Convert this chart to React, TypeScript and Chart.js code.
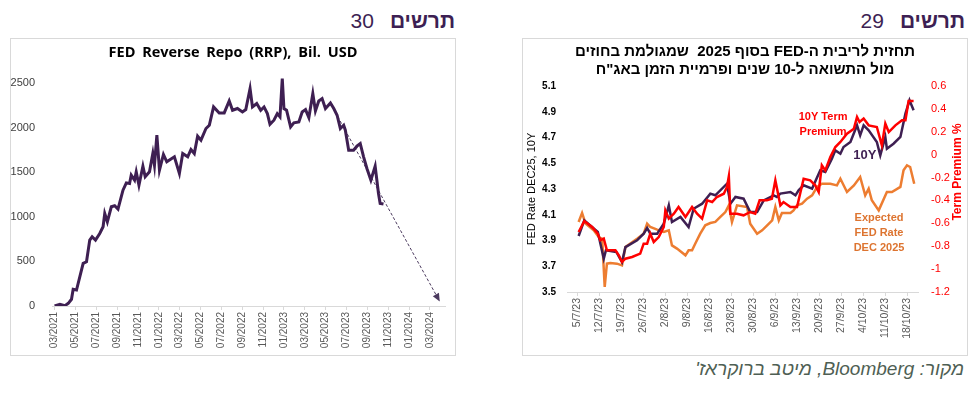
import React, { useEffect, useRef } from "react";
import { Chart, registerables } from "chart.js";

Chart.register(...registerables);

// ---------- Chart 30: FED Reverse Repo (RRP), Bil. USD ----------
// x = months since 03/2021
const rrpMonths = [0, 0.51, 0.99, 1.31, 1.62, 1.78, 2.1, 2.74, 3.06, 3.37, 3.6, 3.92, 4.33, 4.65, 4.81, 5.06, 5.44, 5.76, 6.08, 6.56, 6.88, 7.19, 7.35, 7.67, 7.83, 8.09, 8.47, 8.69, 9.1, 9.42, 9.58, 9.81, 10.06, 10.44, 10.76, 11.49, 11.97, 12.29, 12.77, 13.08, 13.4, 13.72, 14.04, 14.52, 14.84, 15.25, 15.79, 16.27, 16.75, 17.07, 17.54, 18.02, 18.34, 18.75, 18.98, 19.39, 19.77, 20.09, 20.41, 20.66, 21.04, 21.36, 21.62, 21.84, 22.0, 22.25, 22.64, 22.95, 23.43, 23.75, 24.07, 24.39, 24.77, 25.02, 25.34, 25.66, 25.98, 26.46, 26.78, 27.1, 27.41, 27.73, 27.89, 28.21, 28.68, 29.0, 29.32, 29.64, 29.96, 30.34, 30.75, 31.07, 31.23, 31.55];
const rrpValues = [0, 19, 4, 30, 75, 187, 179, 478, 496, 739, 776, 739, 813, 888, 1037, 944, 1112, 1123, 1086, 1298, 1380, 1373, 1466, 1410, 1504, 1354, 1567, 1448, 1504, 1709, 1578, 1914, 1522, 1698, 1616, 1672, 1485, 1709, 1672, 1754, 1709, 1903, 1858, 1989, 2026, 2231, 2164, 2164, 2298, 2194, 2213, 2175, 2201, 2436, 2231, 2269, 2194, 2231, 2156, 2037, 2082, 2156, 2119, 2548, 2213, 2194, 2007, 2052, 2063, 2175, 2201, 2112, 2380, 2186, 2298, 2324, 2213, 2276, 2213, 2138, 1989, 2026, 1970, 1746, 1746, 1791, 1821, 1672, 1541, 1410, 1567, 1261, 1149, 1142];
const rrpTrendMonths = [26.46, 36.9];
const rrpTrendValues = [2270, 60];
const rrpYTicks = [0, 500, 1000, 1500, 2000, 2500];
const rrpXTicks = [0, 2, 4, 6, 8, 10, 12, 14, 16, 18, 20, 22, 24, 26, 28, 30, 32, 34, 36];

// ---------- Chart 29: FED DEC25 expectations vs 10Y and term premium ----------
// x = days since 5/7/23
const tyDays = [0.5, 2.3, 6.6, 8.5, 9.2, 12.5, 14.3, 15.4, 19.1, 21.2, 22.3, 23.3, 25.5, 27.6, 29.2, 30.2, 32.9, 35.5, 37.1, 39.8, 42.4, 44.0, 47.7, 48.8, 50.4, 53.0, 55.1, 57.3, 59.4, 62.6, 63.6, 64.7, 67.9, 69.5, 70.5, 72.1, 74.8, 77.4, 79.0, 81.1, 82.2, 83.8, 84.8, 87.0, 89.1, 90.1, 91.2, 92.8, 95.4, 96.5, 98.1, 98.6, 100.7, 102.9, 104.5, 105.8, 107.1];
const tyValues = [3.935, 4.057, 3.966, 3.759, 3.824, 3.811, 3.733, 3.849, 3.901, 3.953, 3.997, 3.953, 3.953, 4.031, 4.173, 4.044, 4.083, 4.005, 4.147, 4.186, 4.264, 4.251, 4.341, 4.186, 4.238, 4.225, 4.121, 4.121, 4.212, 4.251, 4.238, 4.264, 4.277, 4.251, 4.29, 4.329, 4.303, 4.445, 4.432, 4.536, 4.6, 4.574, 4.626, 4.665, 4.795, 4.717, 4.795, 4.756, 4.665, 4.561, 4.704, 4.613, 4.652, 4.704, 4.885, 4.989, 4.911];
const tpDays = [0.5, 2.3, 4.8, 6.6, 7.4, 8.5, 9.5, 12.2, 13.3, 14.3, 15.4, 17.5, 20.1, 21.2, 22.3, 23.3, 24.4, 26.0, 27.6, 28.1, 29.2, 30.8, 32.3, 34.5, 36.6, 38.2, 39.8, 41.4, 43.0, 44.5, 46.7, 47.7, 48.3, 48.8, 50.9, 53.0, 55.1, 56.7, 58.1, 60.4, 62.0, 63.1, 64.7, 65.7, 67.9, 70.0, 72.1, 74.2, 75.8, 76.9, 77.9, 79.0, 80.6, 82.2, 83.8, 85.9, 88.1, 89.1, 89.9, 91.2, 92.8, 95.4, 97.0, 98.1, 99.2, 101.3, 103.4, 104.5, 105.5, 107.1];
const tpValues = [-0.676, -0.58, -0.632, -0.69, -0.749, -0.734, -0.836, -0.836, -0.88, -0.938, -0.909, -0.894, -0.865, -0.778, -0.778, -0.69, -0.763, -0.72, -0.632, -0.487, -0.559, -0.516, -0.457, -0.545, -0.457, -0.516, -0.559, -0.399, -0.414, -0.37, -0.341, -0.283, -0.189, -0.516, -0.516, -0.53, -0.501, -0.516, -0.399, -0.399, -0.385, -0.224, -0.443, -0.414, -0.457, -0.457, -0.21, -0.224, -0.268, -0.326, -0.093, -0.137, -0.02, 0.067, 0.111, 0.183, 0.227, 0.329, 0.285, 0.315, 0.256, 0.242, 0.082, 0.271, 0.198, 0.256, 0.3, 0.3, 0.469, 0.469];
const fedDays = [0.5, 1.6, 2.7, 5.3, 6.9, 8.0, 8.8, 9.5, 10.6, 12.7, 14.3, 15.4, 19.1, 21.2, 22.3, 23.3, 25.5, 27.6, 29.2, 30.2, 31.8, 34.5, 35.5, 36.6, 37.6, 39.2, 40.8, 42.4, 44.0, 45.6, 47.2, 48.3, 49.3, 50.9, 54.1, 55.1, 57.3, 58.9, 60.5, 62.1, 63.1, 64.2, 65.2, 67.9, 68.9, 70.0, 71.6, 73.2, 74.8, 76.4, 77.9, 80.6, 82.7, 83.8, 85.9, 88.1, 90.1, 91.7, 92.8, 93.8, 96.0, 98.6, 100.2, 102.9, 103.9, 105.0, 106.0, 107.3];
const fedValues = [4.044, 4.114, 4.031, 3.979, 3.927, 3.914, 3.539, 3.72, 3.725, 3.72, 3.707, 3.849, 3.914, 3.953, 4.031, 4.005, 3.984, 3.966, 3.979, 3.862, 3.837, 3.785, 3.824, 3.824, 3.875, 3.953, 4.018, 4.036, 4.044, 4.083, 4.121, 4.173, 4.044, 4.173, 4.16, 4.031, 3.953, 3.979, 4.018, 4.057, 4.16, 4.057, 4.114, 4.114, 4.134, 4.173, 4.186, 4.225, 4.251, 4.316, 4.341, 4.341, 4.328, 4.38, 4.277, 4.328, 4.393, 4.251, 4.303, 4.212, 4.134, 4.277, 4.277, 4.316, 4.445, 4.484, 4.471, 4.341];
const leftTicks = [3.5, 3.7, 3.9, 4.1, 4.3, 4.5, 4.7, 4.9, 5.1];
const rightTicks = [-1.2, -1.0, -0.8, -0.6, -0.4, -0.2, 0, 0.2, 0.4, 0.6];
const weekTicks = [0, 7, 14, 21, 28, 35, 42, 49, 56, 63, 70, 77, 84, 91, 98, 105];

// annotation labels, anchored in data space (day, left-axis value)
const noteLines = [["10Y Term", "Premium"], ["10Y"], ["Expected", "FED Rate", "DEC 2025"]];
const noteDays = [78.3, 91.6, 96.1];
const noteValues = [4.80, 4.56, 3.956];

const PURPLE = "#3e1f52";
const RED = "#ff0000";
const ORANGE = "#ed7d31";

function fmtMonth(v: number) {
  const t = 2 + Math.round(v);
  const y = 2021 + Math.floor(t / 12);
  const mm = (t % 12) + 1;
  return (mm < 10 ? "0" : "") + mm + "/" + y;
}
function fmtDay(v: number) {
  const d = new Date(2023, 6, 5 + Math.round(v));
  return d.getDate() + "/" + (d.getMonth() + 1) + "/23";
}
function fmtNum(v: number) {
  return String(Number(v.toFixed(1)));
}

const arrowHead = {
  id: "arrowHead",
  afterDatasetsDraw(chart: any) {
    const pts = chart.getDatasetMeta(1).data;
    if (pts.length < 2) return;
    const a = pts[pts.length - 2];
    const b = pts[pts.length - 1];
    const ang = Math.atan2(b.y - a.y, b.x - a.x);
    const ctx = chart.ctx;
    ctx.save();
    ctx.translate(b.x, b.y);
    ctx.rotate(ang);
    ctx.beginPath();
    ctx.moveTo(1, 0);
    ctx.lineTo(-7, -3.5);
    ctx.lineTo(-7, 3.5);
    ctx.closePath();
    ctx.fillStyle = "#4b3a5e";
    ctx.fill();
    ctx.restore();
  },
};

const notesPlugin = {
  id: "notes",
  afterDatasetsDraw(chart: any) {
    const { ctx, scales } = chart;
    const x = scales.x;
    const y = scales.y;
    const styles = [
      { font: "bold 11px Arial", color: RED, lh: 15 },
      { font: "bold 13px Arial", color: PURPLE, lh: 15 },
      { font: "bold 11px Arial", color: "#dd7430", lh: 15 },
    ];
    ctx.save();
    ctx.textAlign = "center";
    ctx.textBaseline = "middle";
    noteLines.forEach((lines, i) => {
      const cx = x.getPixelForValue(noteDays[i]);
      const cy = y.getPixelForValue(noteValues[i]);
      const s = styles[i];
      ctx.font = s.font;
      ctx.fillStyle = s.color;
      const start = cy - ((lines.length - 1) * s.lh) / 2;
      lines.forEach((t, j) => ctx.fillText(t, cx, start + j * s.lh));
    });
    // right axis title, reading bottom-to-top
    ctx.translate(chart.width - 9, (chart.chartArea.top + chart.chartArea.bottom) / 2 - 17);
    ctx.rotate(-Math.PI / 2);
    ctx.font = "bold 12px Arial";
    ctx.fillStyle = RED;
    ctx.fillText("Term Premium %", 0, 0);
    ctx.restore();
  },
};

function RrpChart() {
  const ref = useRef<HTMLCanvasElement>(null);
  useEffect(() => {
    const chart = new Chart(ref.current as HTMLCanvasElement, {
      type: "line",
      data: {
        datasets: [
          {
            data: rrpMonths.map((m, i) => ({ x: m, y: rrpValues[i] })),
            borderColor: PURPLE,
            borderWidth: 3,
            pointRadius: 0,
            tension: 0,
          },
          {
            data: rrpTrendMonths.map((m, i) => ({ x: m, y: rrpTrendValues[i] })),
            borderColor: "#4b3a5e",
            borderWidth: 1,
            borderDash: [3, 2],
            pointRadius: 0,
          },
        ],
      },
      options: {
        animation: false,
        responsive: false,
        maintainAspectRatio: false,
        layout: { padding: { top: 35, right: 10, left: 0, bottom: 0 } },
        plugins: { legend: { display: false }, tooltip: { enabled: false }, title: { display: false } },
        scales: {
          x: {
            type: "linear",
            min: -0.25,
            max: 37.45,
            afterBuildTicks: (s: any) => {
              s.ticks = rrpXTicks.map((v) => ({ value: v }));
            },
            afterFit: (s: any) => {
              s.height = 49;
            },
            ticks: {
              callback: (v: any) => fmtMonth(Number(v)),
              autoSkip: false,
              maxRotation: 90,
              minRotation: 90,
              color: "#595959",
              font: { family: "Arial", size: 10 },
              padding: 2,
            },
            grid: { drawOnChartArea: false, drawTicks: true, tickLength: 4, color: "#d9d9d9" },
            border: { color: "#d9d9d9" },
          },
          y: {
            type: "linear",
            min: 0,
            max: 2600,
            afterBuildTicks: (s: any) => {
              s.ticks = rrpYTicks.map((v) => ({ value: v }));
            },
            afterFit: (s: any) => {
              s.width = 41;
            },
            ticks: {
              callback: (v: any) => String(v),
              color: "#404040",
              font: { family: "Arial", size: 11 },
              padding: 9,
            },
            grid: { display: false },
            border: { display: false },
          },
        },
      },
      plugins: [arrowHead],
    } as any);
    return () => chart.destroy();
  }, []);
  return <canvas ref={ref} width={444} height={316} style={{ display: "block", width: 444, height: 316 }} />;
}

function RateChart() {
  const ref = useRef<HTMLCanvasElement>(null);
  useEffect(() => {
    const chart = new Chart(ref.current as HTMLCanvasElement, {
      type: "line",
      data: {
        datasets: [
          {
            label: "10Y Term Premium",
            data: tpDays.map((d, i) => ({ x: d, y: tpValues[i] })),
            yAxisID: "y1",
            borderColor: RED,
            borderWidth: 2.5,
            pointRadius: 0,
            tension: 0,
            order: 1,
          },
          {
            label: "10Y",
            data: tyDays.map((d, i) => ({ x: d, y: tyValues[i] })),
            yAxisID: "y",
            borderColor: PURPLE,
            borderWidth: 2.5,
            pointRadius: 0,
            tension: 0,
            order: 2,
          },
          {
            label: "Expected FED Rate DEC 2025",
            data: fedDays.map((d, i) => ({ x: d, y: fedValues[i] })),
            yAxisID: "y",
            borderColor: ORANGE,
            borderWidth: 2.5,
            pointRadius: 0,
            tension: 0,
            order: 3,
          },
        ],
      },
      options: {
        animation: false,
        responsive: false,
        maintainAspectRatio: false,
        layout: { padding: { top: 47, right: 0, left: 0, bottom: 0 } },
        plugins: { legend: { display: false }, tooltip: { enabled: false } },
        scales: {
          x: {
            type: "linear",
            min: -3.2,
            max: 108.5,
            afterBuildTicks: (s: any) => {
              s.ticks = weekTicks.map((v) => ({ value: v }));
            },
            afterFit: (s: any) => {
              s.height = 63;
            },
            ticks: {
              callback: (v: any) => fmtDay(Number(v)),
              autoSkip: false,
              maxRotation: 90,
              minRotation: 90,
              color: "#595959",
              font: { family: "Arial", size: 10.5 },
              padding: 2,
            },
            grid: { drawOnChartArea: false, drawTicks: true, tickLength: 4, color: "#d9d9d9" },
            border: { color: "#d9d9d9" },
          },
          y: {
            type: "linear",
            position: "left",
            min: 3.5,
            max: 5.1,
            afterBuildTicks: (s: any) => {
              s.ticks = leftTicks.map((v) => ({ value: v }));
            },
            afterFit: (s: any) => {
              s.width = 44;
            },
            ticks: {
              callback: (v: any) => fmtNum(Number(v)),
              color: "#000000",
              font: { family: "Arial", size: 10, weight: "bold" },
              padding: 3,
            },
            title: {
              display: true,
              text: "FED Rate DEC25, 10Y",
              color: "#000000",
              font: { family: "Arial", size: 11 },
              padding: { top: 2, bottom: 2 },
            },
            grid: { display: false },
            border: { display: false },
          },
          y1: {
            type: "linear",
            position: "right",
            min: -1.2,
            max: 0.6,
            afterBuildTicks: (s: any) => {
              s.ticks = rightTicks.map((v) => ({ value: v }));
            },
            afterFit: (s: any) => {
              s.width = 49;
            },
            ticks: {
              callback: (v: any) => fmtNum(Number(v)),
              color: RED,
              font: { family: "Arial", size: 11 },
              padding: 5,
            },
            grid: { display: false },
            border: { display: false },
          },
        },
      },
      plugins: [notesPlugin],
    } as any);
    return () => chart.destroy();
  }, []);
  return <canvas ref={ref} width={444} height={316} style={{ display: "block", width: 444, height: 316 }} />;
}

const headingStyle: React.CSSProperties = {
  position: "absolute",
  top: 9,
  display: "flex",
  gap: 16,
  fontFamily: "Arial, 'Liberation Sans', sans-serif",
  fontSize: 21,
  lineHeight: "24px",
  color: "#3d1f53",
  whiteSpace: "nowrap",
};

const boxStyle: React.CSSProperties = {
  position: "absolute",
  top: 38,
  width: 444,
  height: 316,
  border: "1px solid #d9d9d9",
  background: "#ffffff",
};

export default function App() {
  return (
    <div
      style={{
        position: "absolute",
        left: 0,
        top: 0,
        width: 980,
        height: 394,
        background: "#ffffff",
        overflow: "hidden",
        fontFamily: "Arial, 'Liberation Sans', sans-serif",
      }}
    >
      <div style={{ ...headingStyle, right: 525 }}>
        <span>30</span>
        <span dir="rtl" style={{ fontWeight: "bold" }}>תרשים</span>
      </div>
      <div style={{ ...headingStyle, right: 15 }}>
        <span>29</span>
        <span dir="rtl" style={{ fontWeight: "bold" }}>תרשים</span>
      </div>

      <div style={{ ...boxStyle, left: 10 }}>
        <RrpChart />
        <div
          style={{
            position: "absolute",
            left: 0,
            top: 4,
            width: 444,
            textAlign: "center",
            fontFamily: "'Open Sans', sans-serif",
            fontWeight: "bold",
            fontSize: 14.5,
            wordSpacing: 3,
            lineHeight: "18px",
            color: "#000000",
          }}
        >
          FED Reverse Repo (RRP), Bil. USD
        </div>
      </div>

      <div style={{ ...boxStyle, left: 522 }}>
        <RateChart />
        <div
          dir="rtl"
          style={{
            position: "absolute",
            left: 0,
            top: 3,
            width: 444,
            textAlign: "center",
            fontWeight: "bold",
            fontSize: 15,
            lineHeight: "18px",
            color: "#000000",
            whiteSpace: "pre",
          }}
        >
          {"תחזית לריבית ה-FED בסוף 2025  שמגולמת בחוזים\nמול התשואה ל-10 שנים ופרמיית הזמן באג\"ח"}
        </div>
      </div>

      <div
        dir="rtl"
        style={{
          position: "absolute",
          right: 16,
          top: 358,
          fontStyle: "italic",
          fontSize: 19,
          lineHeight: "22px",
          color: "#4f5f54",
          whiteSpace: "nowrap",
        }}
      >
        מקור: Bloomberg, מיטב ברוקראז'
      </div>
    </div>
  );
}
